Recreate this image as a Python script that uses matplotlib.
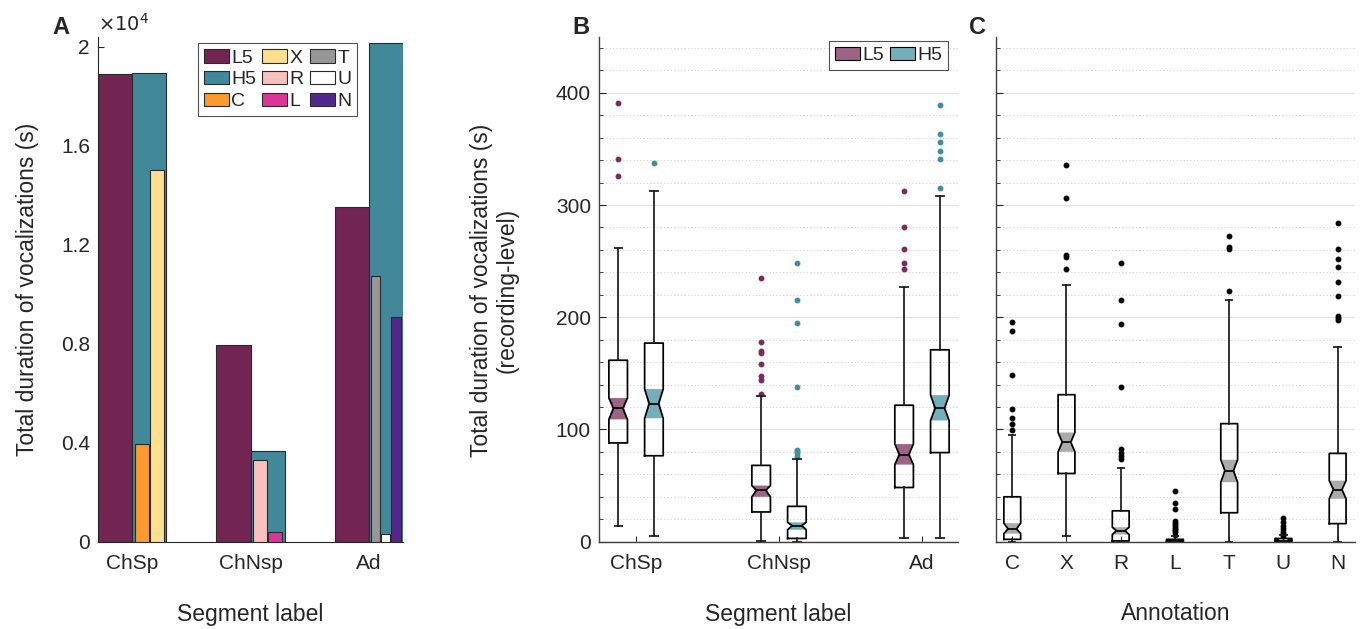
import matplotlib
matplotlib.use("Agg")
import matplotlib.pyplot as plt
from matplotlib.patches import Patch
import numpy as np

plt.rcParams['font.family'] = ['Liberation Sans', 'DejaVu Sans']
TXT = '#262626'
plt.rcParams['text.color'] = TXT
plt.rcParams['axes.labelcolor'] = TXT
plt.rcParams['xtick.color'] = TXT
plt.rcParams['ytick.color'] = TXT

# ---------------- data ----------------
# Panel A: total durations (s)
seg_labels = ['ChSp', 'ChNsp', 'Ad']
l5_total = [18890, 7960, 13520]
h5_total = [18940, 3670, 20140]
annot_chsp = {'C': 3940, 'X': 15010}
annot_chnsp = {'R': 3300, 'L': 380}
annot_ad = {'T': 10720, 'U': 300, 'N': 9100}
a_yticks = [0, 4000, 8000, 12000, 16000, 20000]
a_yticklabels = ['0', '0.4', '0.8', '1.2', '1.6', '2']

# Panel B: recording-level box stats (L5 / H5 per segment label)
b_l5_med = [118.8, 45.8, 77.6]
b_l5_q1 = [88.0, 26.5, 48.3]
b_l5_q3 = [161.7, 68.0, 121.6]
b_l5_lo = [14.3, 0.7, 2.9]
b_l5_hi = [261.9, 129.5, 226.8]
b_l5_cilo = [109.0, 40.0, 68.7]
b_l5_cihi = [128.0, 50.0, 87.0]
b_l5_fliers = [[391, 341, 325.6],
               [235.4, 178.2, 170, 168, 158, 147.4, 143.8, 131.7],
               [312.7, 280, 260.8, 248.3, 243]]
b_h5_med = [123.0, 14.3, 119.0]
b_h5_q1 = [76.6, 2.9, 79.4]
b_h5_q3 = [177.0, 31.5, 171.0]
b_h5_lo = [4.7, 0.0, 2.9]
b_h5_hi = [312.3, 74.0, 308.4]
b_h5_cilo = [110.0, 10.7, 108.0]
b_h5_cihi = [136.0, 17.2, 130.6]
b_h5_fliers = [[337.7],
               [248, 215.4, 195, 138, 82, 80.5, 78.7, 76],
               [389, 363.5, 356.4, 348.5, 340.6, 315.6]]

# Panel C: per annotation
c_labels = ['C', 'X', 'R', 'L', 'T', 'U', 'N']
c_med = [11.4, 88.7, 9.7, 0.7, 63.3, 1.0, 46.5]
c_q1 = [2.1, 60.8, 0.7, 0.0, 25.8, 0.0, 16.1]
c_q3 = [40.0, 131.0, 27.5, 2.1, 105.2, 2.9, 78.7]
c_lo = [0.0, 4.7, 0.0, 0.0, 0.0, 0.0, 0.0]
c_hi = [95.2, 229.0, 65.8, 5.4, 215.0, 6.4, 173.5]
c_cilo = [7.2, 80.1, 6.4, 0.4, 53.0, 0.7, 38.3]
c_cihi = [16.5, 97.3, 12.9, 1.0, 73.0, 1.3, 54.4]
c_fliers = [[195.7, 187.8, 148.5, 118, 109.8, 104.5, 99.1],
            [335.6, 306.3, 255.5, 253.3, 243.3],
            [248, 215, 194.3, 137.7, 82.3, 79.4, 76.6, 74],
            [45, 34.3, 29.3, 18.6, 16.8, 15, 13.2, 11.4, 10, 8.2, 6.4],
            [272, 262.3, 260.5, 223.6],
            [21.5, 17.2, 14.3, 11.4, 9, 7.2, 5.4],
            [283.7, 261.2, 251.5, 245, 231.8, 219, 201.4, 199.3, 197.9]]

# colours
COL = {'L5': '#722453', 'H5': '#41899a', 'C': '#fd9a2e', 'X': '#fee08e',
       'R': '#f9c1bd', 'L': '#dd3497', 'T': '#969696', 'U': '#ffffff',
       'N': '#54278f'}
B_FILL = {'L5': '#9d6387', 'H5': '#74aebb'}
B_DOT = {'L5': '#7a2a5c', 'H5': '#3f8f9f'}
C_FILL = '#ababab'

W, H = 1361, 629
fig = plt.figure(figsize=(W / 100, H / 100), dpi=100)

def fbox(l, r, t, b):
    return [l / W, 1 - b / H, (r - l) / W, (b - t) / H]

TICK_FS = 15
LAB_FS = 16.5
WAIST = 0.66
BLW = 1.25

# ---------------- Panel A ----------------
axA = fig.add_axes(fbox(98.3, 402.7, 37, 541.7))
x = np.arange(1, len(seg_labels) + 1)
bw = 0.288
edge = '#2a2a2a'
axA.bar(x - bw / 2, l5_total, width=bw, color=COL['L5'], edgecolor=edge, lw=0.8, zorder=2)
axA.bar(x + bw / 2, h5_total, width=bw, color=COL['H5'], edgecolor=edge, lw=0.8, zorder=2)
for xi, grp in zip(x, [annot_chsp, annot_chnsp, annot_ad]):
    n = len(grp)
    inner_l, inner_r = xi + 0.015, xi + bw - 0.015
    step = (inner_r - inner_l) / n
    for k, (name, val) in enumerate(grp.items()):
        cx = inner_l + step * (k + 0.5)
        axA.bar(cx, val, width=step * 0.94, color=COL[name], edgecolor=edge, lw=0.8, zorder=3)
axA.set_xlim(1 - bw, 3 + bw)
axA.set_ylim(0, 20400)
axA.set_xticks(x)
axA.set_xticklabels(seg_labels)
axA.set_yticks(a_yticks)
axA.set_yticklabels(a_yticklabels)
axA.tick_params(axis='y', direction='in', length=4, labelsize=TICK_FS, pad=6)
axA.tick_params(axis='x', length=0, labelsize=TICK_FS, pad=9)
for s in ['top', 'right']:
    axA.spines[s].set_visible(False)
for s in ['left', 'bottom']:
    axA.spines[s].set_color(TXT)
    axA.spines[s].set_linewidth(0.8)
axA.text(0.0, 1.005, r'$\times10^{4}$', transform=axA.transAxes, fontsize=14,
         ha='left', va='bottom', color=TXT)
order = ['L5', 'H5', 'C', 'X', 'R', 'L', 'T', 'U', 'N']
handles = [Patch(facecolor=COL[k], edgecolor=edge, lw=0.8, label=k) for k in order]
legA = axA.legend(handles=handles, ncol=3, loc='upper left', bbox_to_anchor=(0.327, 0.988),
                  fontsize=14, handlelength=1.3, handleheight=0.7, handletextpad=0.12,
                  columnspacing=0.3, labelspacing=0.22, borderpad=0.3, borderaxespad=0,
                  frameon=True, fancybox=False, edgecolor=TXT)
legA.get_frame().set_linewidth(0.8)

# ---------------- helpers for boxes ----------------
def draw_boxes(ax, pos, med, q1, q3, lo, hi, cilo, cihi, fliers, width, fill, dot):
    stats = []
    for i in range(len(pos)):
        stats.append(dict(med=med[i], q1=q1[i], q3=q3[i], whislo=lo[i], whishi=hi[i],
                          cilo=cilo[i], cihi=cihi[i], fliers=np.array(fliers[i])))
        l, r = pos[i] - width / 2, pos[i] + width / 2
        cl, cr = pos[i] - width * WAIST / 2, pos[i] + width * WAIST / 2
        ax.fill([l, r, cr, r, l, cl], [cihi[i], cihi[i], med[i], cilo[i], cilo[i], med[i]],
                color=fill, lw=0, zorder=2)
    ax.bxp(stats, positions=pos, widths=width, capwidths=width * WAIST, shownotches=True,
           showfliers=True, showcaps=False, manage_ticks=False,
           boxprops=dict(color='black', lw=BLW),
           whiskerprops=dict(color='#1a1a1a', lw=BLW),
           medianprops=dict(color='black', lw=BLW),
           flierprops=dict(marker='o', markersize=3.2, markerfacecolor=dot,
                           markeredgecolor=dot, linestyle='none'))
    pos = np.asarray(pos)
    ax.hlines(lo, pos - width / 4, pos + width / 4, color='#1a1a1a', lw=BLW, zorder=3)
    ax.hlines(hi, pos - width / 4, pos + width / 4, color='#1a1a1a', lw=BLW, zorder=3)

def style_box_axes(ax):
    ax.set_ylim(0, 450)
    ax.set_yticks([0, 100, 200, 300, 400])
    ax.set_yticks(np.arange(0, 451, 20), minor=True)
    ax.grid(axis='y', which='major', color='#e3e3e3', lw=1.0, ls='-', zorder=0)
    ax.grid(axis='y', which='minor', color='#c8c8c8', lw=0.7, ls=(0, (1, 2.5)), zorder=0)
    ax.set_axisbelow(True)
    ax.tick_params(axis='both', which='both', direction='in', labelsize=TICK_FS)
    ax.tick_params(axis='y', which='major', length=5, pad=6)
    ax.tick_params(axis='y', which='minor', length=3)
    ax.tick_params(axis='x', which='major', length=4, pad=9)
    for s in ['top', 'right']:
        ax.spines[s].set_visible(False)
    for s in ['left', 'bottom']:
        ax.spines[s].set_color('#404040')
        ax.spines[s].set_linewidth(1.0)

# ---------------- Panel B ----------------
axB = fig.add_axes(fbox(599.3, 958.3, 36.7, 541.7))
xb = np.arange(1, len(seg_labels) + 1)
off = 0.125
wB = 0.13
draw_boxes(axB, xb - off, b_l5_med, b_l5_q1, b_l5_q3, b_l5_lo, b_l5_hi, b_l5_cilo,
           b_l5_cihi, b_l5_fliers, wB, B_FILL['L5'], B_DOT['L5'])
draw_boxes(axB, xb + off, b_h5_med, b_h5_q1, b_h5_q3, b_h5_lo, b_h5_hi, b_h5_cilo,
           b_h5_cihi, b_h5_fliers, wB, B_FILL['H5'], B_DOT['H5'])
style_box_axes(axB)
axB.set_xlim(0.743, 3.254)
axB.set_xticks(xb)
axB.set_xticklabels(seg_labels)
hB = [Patch(facecolor=B_FILL[k], edgecolor='black', lw=0.8, label=k) for k in ['L5', 'H5']]
legB = axB.legend(handles=hB, ncol=2, loc='upper right', bbox_to_anchor=(0.972, 0.992),
                  fontsize=14, handlelength=1.3, handleheight=0.7, handletextpad=0.12,
                  columnspacing=0.3, borderpad=0.3, borderaxespad=0, frameon=True,
                  fancybox=False, edgecolor=TXT)
legB.get_frame().set_linewidth(0.8)

# ---------------- Panel C ----------------
axC = fig.add_axes(fbox(996, 1355, 36.7, 541.7))
xc = np.arange(1, len(c_labels) + 1)
draw_boxes(axC, xc, c_med, c_q1, c_q3, c_lo, c_hi, c_cilo, c_cihi, c_fliers, 0.31,
           C_FILL, 'black')
style_box_axes(axC)
axC.set_xlim(0.70, 7.32)
axC.set_xticks(xc)
axC.set_xticklabels(c_labels)
axC.set_yticklabels([])

# ---------------- labels ----------------
fig.text(28 / W, 1 - 289 / H, 'Total duration of vocalizations (s)', rotation=90,
         ha='center', va='center', fontsize=LAB_FS)
fig.text(494 / W, 1 - 290 / H, 'Total duration of vocalizations (s)\n(recording-level)',
         rotation=90, ha='center', va='center', fontsize=LAB_FS, linespacing=1.15,
         multialignment='center')
fig.text(250 / W, 1 - 614 / H, 'Segment label', ha='center', va='center', fontsize=LAB_FS)
fig.text(778 / W, 1 - 614 / H, 'Segment label', ha='center', va='center', fontsize=LAB_FS)
fig.text(1176 / W, 1 - 614 / H, 'Annotation', ha='center', va='center', fontsize=LAB_FS)
fig.text(61 / W, 1 - 27 / H, 'A', ha='center', va='center', fontsize=17, fontweight='bold')
fig.text(581 / W, 1 - 27 / H, 'B', ha='center', va='center', fontsize=17, fontweight='bold')
fig.text(978 / W, 1 - 27 / H, 'C', ha='center', va='center', fontsize=17, fontweight='bold')

fig.savefig('out.png', dpi=100)
